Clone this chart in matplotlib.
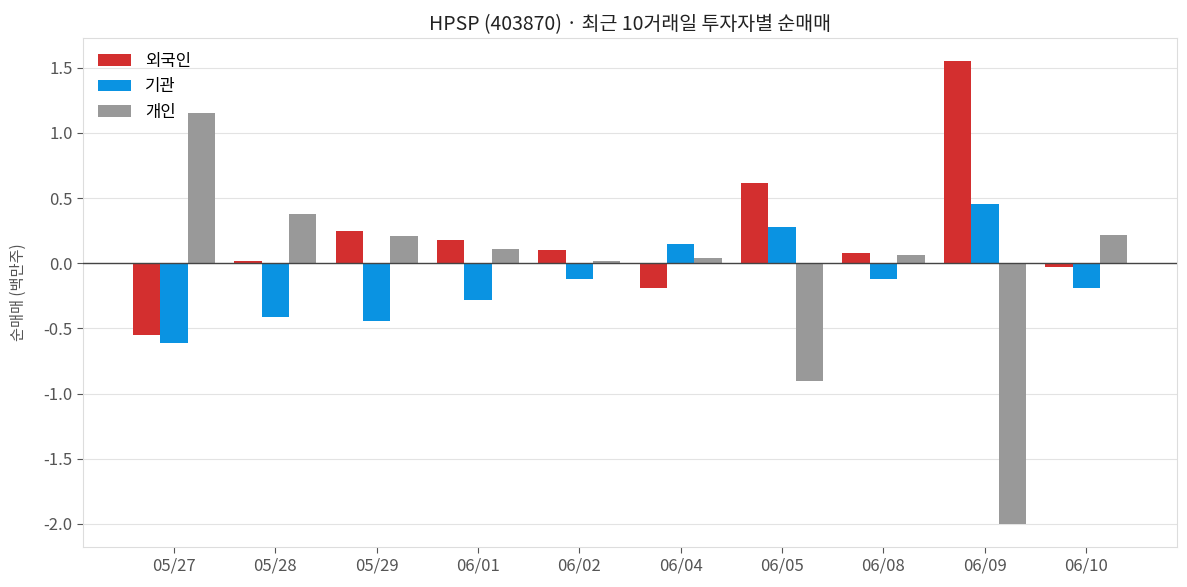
import numpy as np
import matplotlib
matplotlib.use("Agg")
import matplotlib.pyplot as plt

plt.rcParams['font.family'] = ['Noto Sans CJK KR', 'DejaVu Sans']
plt.rcParams['axes.unicode_minus'] = False

dates = ["05/27", "05/28", "05/29", "06/01", "06/02", "06/04", "06/05", "06/08", "06/09", "06/10"]
foreign = [-0.55, 0.015, 0.245, 0.177, 0.10, -0.19, 0.615, 0.077, 1.55, -0.025]
institution = [-0.615, -0.41, -0.445, -0.285, -0.12, 0.146, 0.277, -0.12, 0.454, -0.19]
individual = [1.154, 0.377, 0.208, 0.108, 0.02, 0.04, -0.90, 0.062, -2.0, 0.215]

names = ["외국인", "기관", "개인"]
colors = ["#d32f2f", "#0a93e2", "#999999"]

x = np.arange(len(dates))
w = 0.27

fig, ax = plt.subplots(figsize=(11.87, 5.87), dpi=100)
for i, (vals, name, c) in enumerate(zip([foreign, institution, individual], names, colors)):
    ax.bar(x + (i - 1) * w, vals, width=w, color=c, label=name, zorder=3)

ax.axhline(0, color="#444444", linewidth=1, zorder=4)
ax.set_xticks(x)
ax.set_xticklabels(dates)
ax.yaxis.grid(True, color="#e3e3e3", linewidth=0.8, zorder=0)
ax.set_axisbelow(True)
for s in ax.spines.values():
    s.set_color("#dddddd")
ax.tick_params(colors="#555555", labelsize=12, length=4)
ax.set_ylabel("순매매 (백만주)", color="#555555", fontsize=11, labelpad=12)
ax.set_title("HPSP (403870) · 최근 10거래일 투자자별 순매매", fontsize=14, color="#222222")
ax.legend(loc="upper left", frameon=False, fontsize=12, borderaxespad=0.5)

fig.subplots_adjust(left=0.07, right=0.9916, top=0.935, bottom=0.068)
plt.savefig("out.png")
